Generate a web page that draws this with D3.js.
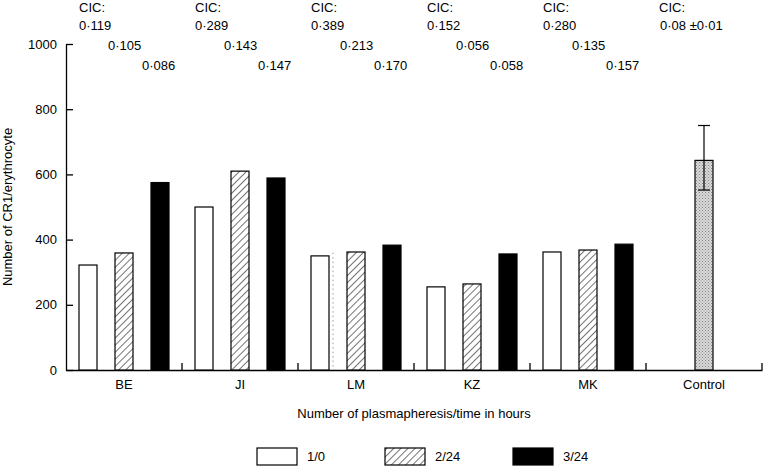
<!DOCTYPE html>
<html><head><meta charset="utf-8">
<script src="https://cdn.jsdelivr.net/npm/d3@7"></script>
<style>body{margin:0;background:#fff}svg{display:block;font-family:"Liberation Sans",Arial,sans-serif;}</style>
</head><body>
<svg id="c" width="763" height="466"></svg>
<script>
const categories = ["BE", "JI", "LM", "KZ", "MK"];
const controlLabel = "Control";
const series = ["1/0", "2/24", "3/24"];
const values10 = [322, 500, 350, 255, 362];
const values224 = [359, 610, 362, 264, 368];
const values324 = [575, 589, 383, 356, 386];
const controlValue = [643];
const controlLow = [552];
const controlHigh = [750];
const cicFirst = ["0·119", "0·289", "0·389", "0·152", "0·280"];
const cicSecond = ["0·105", "0·143", "0·213", "0·056", "0·135"];
const cicThird = ["0·086", "0·147", "0·170", "0·058", "0·157"];
const cicControl = ["0·08 ±0·01"];
const yTicks = [0, 200, 400, 600, 800, 1000];

const svg = d3.select("#c");
const defs = svg.append("defs");
const hatch = defs.append("pattern").attr("id","hatch").attr("patternUnits","userSpaceOnUse")
  .attr("width",5).attr("height",5).attr("patternTransform","rotate(45)");
hatch.append("rect").attr("width",5).attr("height",5).attr("fill","#fff");
hatch.append("line").attr("x1",0).attr("y1",0).attr("x2",0).attr("y2",5).attr("stroke","#000").attr("stroke-width",1.1);
const stip = defs.append("pattern").attr("id","stip").attr("patternUnits","userSpaceOnUse").attr("width",3).attr("height",3);
stip.append("rect").attr("width",3).attr("height",3).attr("fill","#d8d8d8");
stip.append("rect").attr("x",0).attr("y",0).attr("width",1).attr("height",1).attr("fill","#888");
stip.append("rect").attr("x",1.5).attr("y",1.5).attr("width",1).attr("height",1).attr("fill","#999");

const allCats = [...categories, controlLabel];
const x = d3.scaleBand().domain(allCats).range([66, 762]).padding(0);
const xs = d3.scaleBand().domain(series).range([4, 112]).paddingInner(0.5).paddingOuter(0.25);
const y = d3.scaleLinear().domain([0, 1000]).range([370, 44]);
const fills = {"1/0": "#fff", "2/24": "url(#hatch)", "3/24": "#000"};
const seriesVals = {"1/0": values10, "2/24": values224, "3/24": values324};

// y axis
const yAxis = d3.axisLeft(y).tickValues(yTicks).tickSizeInner(-7).tickSizeOuter(0).tickPadding(9).tickFormat(d3.format("d"));
const gy = svg.append("g").attr("transform","translate(66,0)").call(yAxis);
gy.selectAll("text").attr("font-size",13).attr("fill","#000").attr("font-family","Liberation Sans, Arial, sans-serif");
gy.selectAll("line,path").attr("stroke","#000").attr("stroke-width",1.3);

// x axis
const xAxis = d3.axisBottom(x).tickSize(0).tickPadding(10);
const gx = svg.append("g").attr("transform","translate(0,370)").call(xAxis);
gx.select(".domain").attr("stroke","#000").attr("stroke-width",1.3);
gx.selectAll("text").attr("font-size",13).attr("fill","#000").attr("font-family","Liberation Sans, Arial, sans-serif");
svg.append("g").selectAll("line").data(allCats).join("line")
  .attr("x1", d => x(d) + x.bandwidth()).attr("x2", d => x(d) + x.bandwidth())
  .attr("y1", y(0)).attr("y2", y(0) - 7).attr("stroke","#000").attr("stroke-width",1.3);

// dotted line
svg.append("line").attr("x1", x("LM") + 35).attr("x2", x("LM") + 35)
  .attr("y1", y(360)).attr("y2", y(0)).attr("stroke","#999").attr("stroke-width",1).attr("stroke-dasharray","1.5,3");

// bars
series.forEach(s => {
  svg.append("g").selectAll("rect").data(categories).join("rect")
    .attr("x", (d) => x(d) + xs(s)).attr("width", xs.bandwidth())
    .attr("y", (d,i) => y(seriesVals[s][i])).attr("height", (d,i) => y(0) - y(seriesVals[s][i]))
    .attr("fill", fills[s]).attr("stroke","#000").attr("stroke-width",1.2);
});
// control bar
svg.append("rect").attr("x", x(controlLabel) + xs("2/24")).attr("width", xs.bandwidth())
  .attr("y", y(controlValue[0])).attr("height", y(0) - y(controlValue[0]))
  .attr("fill","url(#stip)").attr("stroke","#000").attr("stroke-width",1.2);
const cx = x(controlLabel) + xs("2/24") + xs.bandwidth()/2;
svg.append("line").attr("x1",cx).attr("x2",cx).attr("y1",y(controlLow[0])).attr("y2",y(controlHigh[0])).attr("stroke","#000").attr("stroke-width",1.2);
[controlLow[0], controlHigh[0]].forEach(v => svg.append("line").attr("x1",cx-6).attr("x2",cx+6).attr("y1",y(v)).attr("y2",y(v)).attr("stroke","#000").attr("stroke-width",1.2));

// CIC annotations
const ann = svg.append("g").attr("font-size",13).attr("fill","#000");
allCats.forEach(c => ann.append("text").attr("x", x(c) + 13).attr("y", 12).text("CIC:"));
categories.forEach((c,i) => {
  ann.append("text").attr("x", x(c) + 13).attr("y", 30).text(cicFirst[i]);
  ann.append("text").attr("x", x(c) + 42).attr("y", 50).text(cicSecond[i]);
  ann.append("text").attr("x", x(c) + 76).attr("y", 70).text(cicThird[i]);
});
ann.append("text").attr("x", x(controlLabel) + 14).attr("y", 30).text(cicControl[0]);

// axis titles
svg.append("text").attr("transform","translate(12,207) rotate(-90)").attr("text-anchor","middle").attr("font-size",13).text("Number of CR1/erythrocyte");
svg.append("text").attr("x",414).attr("y",418).attr("text-anchor","middle").attr("font-size",13).text("Number of plasmapheresis/time in hours");

// legend
const legX = d3.scalePoint().domain(series).range([257, 513]);
const lg = svg.append("g");
series.forEach(s => {
  lg.append("rect").attr("x", legX(s)).attr("y", 448).attr("width", 40).attr("height", 17)
    .attr("fill", fills[s]).attr("stroke","#000").attr("stroke-width",1.2);
  lg.append("text").attr("x", legX(s) + 50).attr("y", 461).attr("font-size",13).text(s);
});
</script>
</body></html>
